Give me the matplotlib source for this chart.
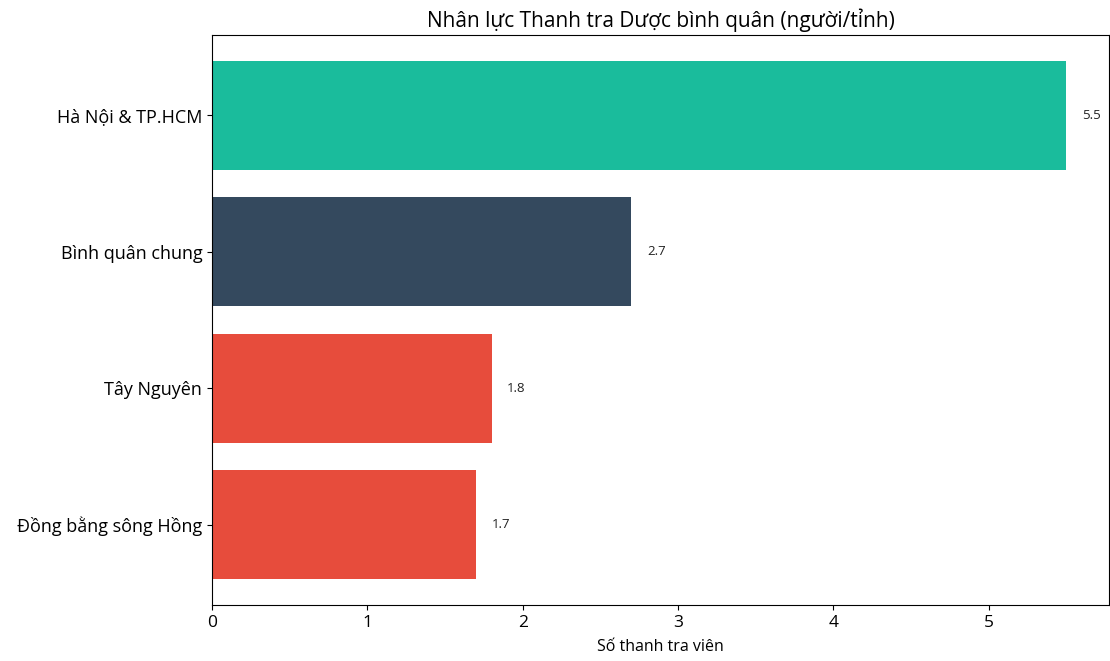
import matplotlib
matplotlib.use('Agg')
import matplotlib.pyplot as plt

plt.rcParams['font.family'] = ['Open Sans', 'DejaVu Sans']

categories = ['Đồng bằng sông Hồng', 'Tây Nguyên', 'Bình quân chung', 'Hà Nội & TP.HCM']
values = [1.7, 1.8, 2.7, 5.5]
colors = ['#e74c3c', '#e74c3c', '#34495e', '#1abc9c']

fig = plt.figure(figsize=(11.1, 6.61), dpi=100)
ax = fig.add_axes([212/1110, 56/661, 897/1110, 570/661])

bars = ax.barh(categories, values, color=colors, height=0.8)
for i, v in enumerate(values):
    ax.text(v + 0.1, i, f'{v}', ha='left', va='center', fontsize=9.5, color='#222222')

ax.set_title('Nhân lực Thanh tra Dược bình quân (người/tỉnh)', fontsize=15, pad=6)
ax.set_xlabel('Số thanh tra viên', fontsize=11.5, labelpad=6)
ax.tick_params(axis='y', labelsize=13)
ax.tick_params(axis='x', labelsize=12.5)

fig.savefig('out.png', dpi=100)
